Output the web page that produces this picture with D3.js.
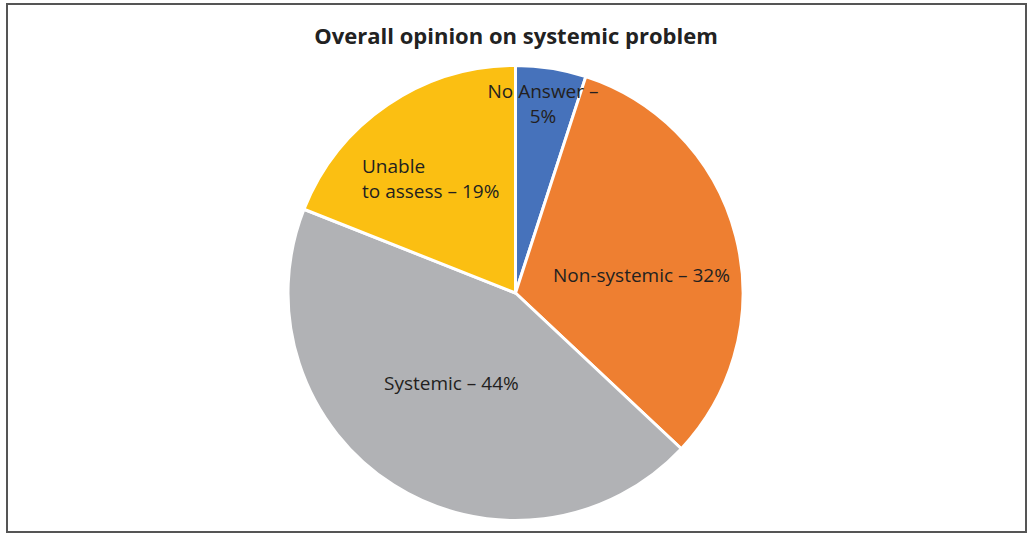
<!DOCTYPE html>
<html>
<head>
<meta charset="utf-8">
<script src="https://cdn.jsdelivr.net/npm/d3@7"></script>
<style>
  html, body { margin: 0; padding: 0; background: #fff; }
  svg { display: block; }
</style>
</head>
<body>
<svg id="chart" width="1028" height="537"></svg>
<script>
const categories = ["No Answer", "Non-systemic", "Systemic", "Unable to assess"];
const values = [5, 32, 44, 19];
const colors = ["#4672bb", "#ee7f31", "#b1b2b5", "#fbbf12"];
const labelLines = [
  ["No Answer –", "5%"],
  ["Non-systemic – 32%"],
  ["Systemic – 44%"],
  ["Unable", "to assess – 19%"]
];
const title = "Overall opinion on systemic problem";

const svg = d3.select("#chart");
const font = "'Open Sans', 'Noto Sans', sans-serif";

svg.append("rect").attr("x", 7).attr("y", 4).attr("width", 1019).attr("height", 528)
  .attr("fill", "#fff").attr("stroke", "#555").attr("stroke-width", 2);

svg.append("text").attr("x", 516).attr("y", 44).attr("text-anchor", "middle")
  .attr("font-family", font).attr("font-weight", "bold").attr("font-size", 22)
  .attr("fill", "#222").text(title);

const cx = 515.5, cy = 293, r = 227.5;
const g = svg.append("g").attr("transform", `translate(${cx},${cy})`);
const pie = d3.pie().sort(null).value(d => d)(values);
const arc = d3.arc().innerRadius(0).outerRadius(r);

g.selectAll("path").data(pie).join("path")
  .attr("d", arc)
  .attr("fill", (d, i) => colors[i])
  .attr("stroke", "#fff").attr("stroke-width", 3).attr("stroke-linejoin", "round");

const labelPos = [
  {x: 543, y: 98, anchor: "middle"},
  {x: 553, y: 282, anchor: "start"},
  {x: 384, y: 390, anchor: "start"},
  {x: 362, y: 173, anchor: "start"}
];
const lineH = 25;
pie.forEach((d, i) => {
  const p = labelPos[i];
  const t = svg.append("text").attr("x", p.x).attr("y", p.y)
    .attr("text-anchor", p.anchor).attr("font-family", font)
    .attr("font-size", 19).attr("fill", "#231f20");
  labelLines[i].forEach((ln, j) => {
    t.append("tspan").attr("x", p.x).attr("dy", j === 0 ? 0 : lineH).text(ln);
  });
});
</script>
</body>
</html>
